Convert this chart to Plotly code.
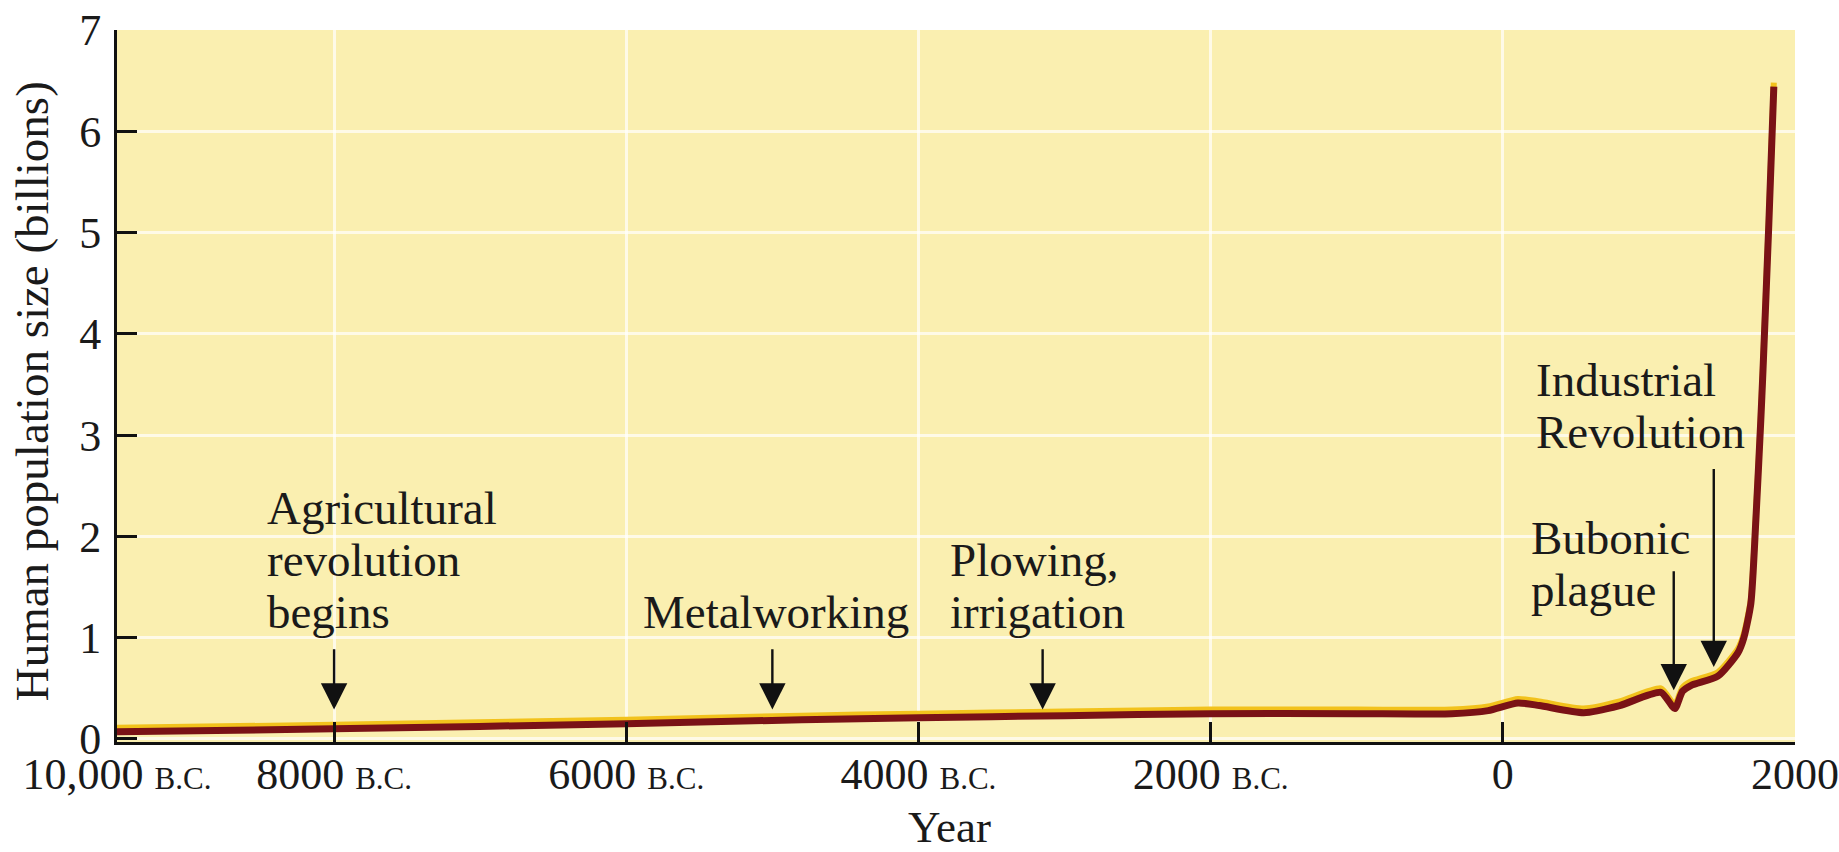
import plotly.graph_objects as go

# ---- data ----
years = [-9486, -8000, -6000, -4800, -4000, -3000, -2000, -1000, -350, -100, 103,
         250, 554, 800, 1082, 1177, 1230, 1290, 1472, 1609, 1650, 1698, 1732,
         1766, 1780, 1821, 1855]
population = [0.07, 0.10, 0.15, 0.19, 0.21, 0.23, 0.25, 0.25, 0.25, 0.28, 0.355,
              0.33, 0.26, 0.33, 0.46, 0.30, 0.47, 0.53, 0.62, 0.85, 1.0, 1.34, 2.16,
              3.15, 3.61, 5.09, 6.44]

x_tickvals = [-9486, -8000, -6000, -4000, -2000, 0, 2000]
BC = "<span style='font-size:31px'>B.C.</span>"
x_ticktext = ["10,000 " + BC, "8000 " + BC, "6000 " + BC, "4000 " + BC,
              "2000 " + BC, "0", "2000"]
y_tickvals = [0, 1, 2, 3, 4, 5, 6, 7]

# events: year, arrow tail value, arrow tip value
event_years = [-8000, -5000, -3150, 1170, 1444]
event_tail = [0.90, 0.90, 0.90, 1.67, 2.68]
event_tip = [0.29, 0.29, 0.29, 0.48, 0.71]

# text labels: line text, paper x-left, paper y-center
label_lines = ["Agricultural", "revolution", "begins", "Metalworking", "Plowing,",
               "irrigation", "Bubonic", "plague", "Industrial", "Revolution"]
label_x = [0.0880, 0.0880, 0.0880, 0.3125, 0.4955, 0.4955, 0.8415, 0.8415, 0.8445, 0.8445]
label_y = [0.3287, 0.2556, 0.1826, 0.1826, 0.2556, 0.1826, 0.2865, 0.2135, 0.5084, 0.4354]

FONT = "Liberation Serif"
SIZE = 47
TXT = "#1a1a1a"

fig = go.Figure()
# gold highlight edge, on a hidden overlay axis shifted a few pixels
fig.add_trace(go.Scatter(x=years, y=population, mode="lines", yaxis="y2",
                         line=dict(color="#F2C21C", width=6, shape="spline", smoothing=0.6),
                         hoverinfo="skip"))
# main dark-red curve, on a hidden overlay axis with the same range as the visible one
fig.add_trace(go.Scatter(x=years, y=population, mode="lines", yaxis="y3",
                         line=dict(color="#7A1216", width=7, shape="spline", smoothing=0.6)))

annotations = []
for yr, tail, tip in zip(event_years, event_tail, event_tip):
    annotations.append(dict(x=yr, y=tip, xref="x", yref="y", ax=yr, ay=tail,
                            axref="x", ayref="y", text="", showarrow=True,
                            arrowhead=2, arrowsize=2.2, arrowwidth=2.4,
                            arrowcolor="#111111"))
for t, px, py in zip(label_lines, label_x, label_y):
    annotations.append(dict(x=px, y=py, xref="paper", yref="paper", text=t,
                            showarrow=False, xanchor="left", yanchor="middle",
                            font=dict(family=FONT, size=SIZE, color=TXT)))
annotations.append(dict(x=-0.0505, y=0.493, xref="paper", yref="paper",
                        text="Human population size (billions)", textangle=-90,
                        showarrow=False, xanchor="center", yanchor="middle",
                        font=dict(family=FONT, size=47, color=TXT)))
annotations.append(dict(x=0.4964, y=-0.119, xref="paper", yref="paper",
                        text="Year", showarrow=False, xanchor="center", yanchor="middle",
                        font=dict(family=FONT, size=45, color=TXT)))

axis_common = dict(showline=True, linecolor="#111111", linewidth=3, ticks="inside",
                   ticklen=20, tickwidth=3, tickcolor="#111111", zeroline=False,
                   showgrid=True, gridcolor="rgba(255,255,255,0.7)", gridwidth=3,
                   automargin=False,
                   tickfont=dict(family=FONT, size=44, color=TXT))

fig.update_layout(
    width=1839, height=852,
    margin=dict(l=117, r=44, t=30, b=110, autoexpand=False),
    paper_bgcolor="white", plot_bgcolor="#FAEFB0",
    showlegend=False,
    font=dict(family=FONT, size=SIZE, color=TXT),
    xaxis=dict(range=[-9486, 2000], tickvals=x_tickvals, ticktext=x_ticktext,
               ticklabelstandoff=-9, **axis_common),
    yaxis=dict(range=[-0.03, 7.0], tickvals=y_tickvals, ticklabelstandoff=4,
               **axis_common),
    yaxis2=dict(range=[-0.07, 6.96], overlaying="y", visible=False),
    yaxis3=dict(range=[-0.03, 7.0], overlaying="y", visible=False),
    annotations=annotations,
)

fig.write_html("out.html", config={"displayModeBar": False},
               post_script="document.body.style.margin='0px';document.body.style.overflow='hidden';")
